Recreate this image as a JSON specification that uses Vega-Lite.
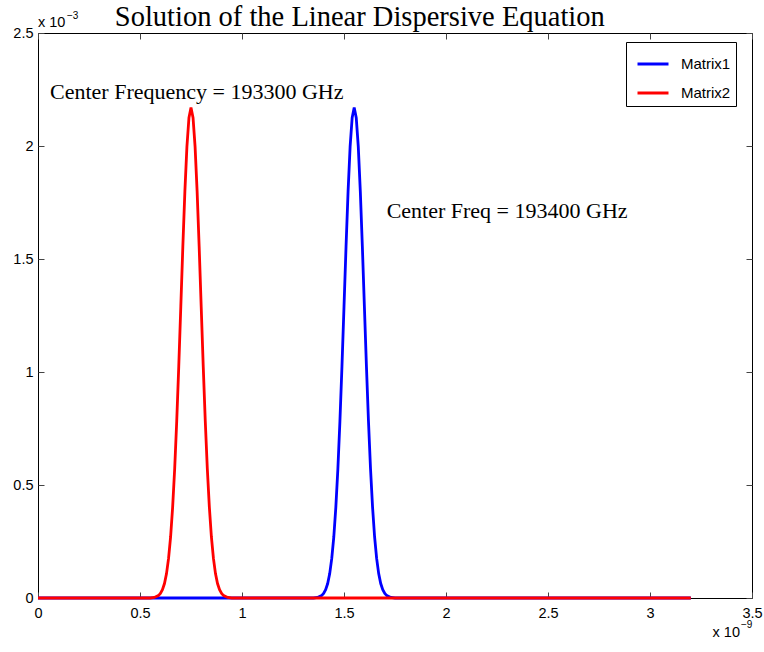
{
  "$schema": "https://vega.github.io/schema/vega-lite/v6.json",
  "width": 714,
  "height": 565,
  "autosize": {"type": "none"},
  "padding": {"left": 38, "top": 33, "right": 12, "bottom": 54},
  "background": "white",
  "config": {
    "view": {"stroke": "black", "strokeWidth": 1},
    "font": "Liberation Sans",
    "axis": {
      "grid": false,
      "domain": false,
      "tickColor": "#444",
      "tickSize": -6,
      "labelFont": "Liberation Sans",
      "labelFontSize": 14.5,
      "labelColor": "black",
      "title": null
    }
  },
  "title": {
    "text": "Solution of the Linear Dispersive Equation",
    "font": "Liberation Serif",
    "fontSize": 28.5,
    "fontWeight": "normal",
    "color": "black",
    "anchor": "start",
    "baseline": "alphabetic",
    "dx": 102,
    "offset": -44
  },
  "datasets": {
    "curves": [
      {"series": "Matrix1", "t": 0.0, "u": 0},
      {"series": "Matrix1", "t": 1.35, "u": 0},
      {"series": "Matrix1", "t": 1.37, "u": 0.0025},
      {"series": "Matrix1", "t": 1.39, "u": 0.0105},
      {"series": "Matrix1", "t": 1.40, "u": 0.020},
      {"series": "Matrix1", "t": 1.41, "u": 0.037},
      {"series": "Matrix1", "t": 1.42, "u": 0.064},
      {"series": "Matrix1", "t": 1.43, "u": 0.108},
      {"series": "Matrix1", "t": 1.44, "u": 0.175},
      {"series": "Matrix1", "t": 1.45, "u": 0.270},
      {"series": "Matrix1", "t": 1.46, "u": 0.402},
      {"series": "Matrix1", "t": 1.47, "u": 0.572},
      {"series": "Matrix1", "t": 1.48, "u": 0.782},
      {"series": "Matrix1", "t": 1.49, "u": 1.025},
      {"series": "Matrix1", "t": 1.50, "u": 1.289},
      {"series": "Matrix1", "t": 1.51, "u": 1.555},
      {"series": "Matrix1", "t": 1.52, "u": 1.799},
      {"series": "Matrix1", "t": 1.53, "u": 1.997},
      {"series": "Matrix1", "t": 1.54, "u": 2.125},
      {"series": "Matrix1", "t": 1.55, "u": 2.170},
      {"series": "Matrix1", "t": 1.56, "u": 2.125},
      {"series": "Matrix1", "t": 1.57, "u": 1.997},
      {"series": "Matrix1", "t": 1.58, "u": 1.799},
      {"series": "Matrix1", "t": 1.59, "u": 1.555},
      {"series": "Matrix1", "t": 1.60, "u": 1.289},
      {"series": "Matrix1", "t": 1.61, "u": 1.025},
      {"series": "Matrix1", "t": 1.62, "u": 0.782},
      {"series": "Matrix1", "t": 1.63, "u": 0.572},
      {"series": "Matrix1", "t": 1.64, "u": 0.402},
      {"series": "Matrix1", "t": 1.65, "u": 0.270},
      {"series": "Matrix1", "t": 1.66, "u": 0.175},
      {"series": "Matrix1", "t": 1.67, "u": 0.108},
      {"series": "Matrix1", "t": 1.68, "u": 0.064},
      {"series": "Matrix1", "t": 1.69, "u": 0.037},
      {"series": "Matrix1", "t": 1.70, "u": 0.020},
      {"series": "Matrix1", "t": 1.71, "u": 0.0105},
      {"series": "Matrix1", "t": 1.73, "u": 0.0025},
      {"series": "Matrix1", "t": 1.75, "u": 0},
      {"series": "Matrix1", "t": 3.2, "u": 0},
      {"series": "Matrix2", "t": 0.0, "u": 0},
      {"series": "Matrix2", "t": 0.55, "u": 0},
      {"series": "Matrix2", "t": 0.57, "u": 0.0025},
      {"series": "Matrix2", "t": 0.59, "u": 0.0105},
      {"series": "Matrix2", "t": 0.60, "u": 0.020},
      {"series": "Matrix2", "t": 0.61, "u": 0.037},
      {"series": "Matrix2", "t": 0.62, "u": 0.064},
      {"series": "Matrix2", "t": 0.63, "u": 0.108},
      {"series": "Matrix2", "t": 0.64, "u": 0.175},
      {"series": "Matrix2", "t": 0.65, "u": 0.270},
      {"series": "Matrix2", "t": 0.66, "u": 0.402},
      {"series": "Matrix2", "t": 0.67, "u": 0.572},
      {"series": "Matrix2", "t": 0.68, "u": 0.782},
      {"series": "Matrix2", "t": 0.69, "u": 1.025},
      {"series": "Matrix2", "t": 0.70, "u": 1.289},
      {"series": "Matrix2", "t": 0.71, "u": 1.555},
      {"series": "Matrix2", "t": 0.72, "u": 1.799},
      {"series": "Matrix2", "t": 0.73, "u": 1.997},
      {"series": "Matrix2", "t": 0.74, "u": 2.125},
      {"series": "Matrix2", "t": 0.75, "u": 2.170},
      {"series": "Matrix2", "t": 0.76, "u": 2.125},
      {"series": "Matrix2", "t": 0.77, "u": 1.997},
      {"series": "Matrix2", "t": 0.78, "u": 1.799},
      {"series": "Matrix2", "t": 0.79, "u": 1.555},
      {"series": "Matrix2", "t": 0.80, "u": 1.289},
      {"series": "Matrix2", "t": 0.81, "u": 1.025},
      {"series": "Matrix2", "t": 0.82, "u": 0.782},
      {"series": "Matrix2", "t": 0.83, "u": 0.572},
      {"series": "Matrix2", "t": 0.84, "u": 0.402},
      {"series": "Matrix2", "t": 0.85, "u": 0.270},
      {"series": "Matrix2", "t": 0.86, "u": 0.175},
      {"series": "Matrix2", "t": 0.87, "u": 0.108},
      {"series": "Matrix2", "t": 0.88, "u": 0.064},
      {"series": "Matrix2", "t": 0.89, "u": 0.037},
      {"series": "Matrix2", "t": 0.90, "u": 0.020},
      {"series": "Matrix2", "t": 0.91, "u": 0.0105},
      {"series": "Matrix2", "t": 0.93, "u": 0.0025},
      {"series": "Matrix2", "t": 0.95, "u": 0},
      {"series": "Matrix2", "t": 3.2, "u": 0}
    ]
  },
  "layer": [
    {
      "data": {"name": "curves"},
      "mark": {"type": "line", "strokeWidth": 2.8},
      "encoding": {
        "x": {
          "field": "t", "type": "quantitative",
          "scale": {"domain": [0, 3.5], "nice": false, "zero": false},
          "axis": {"orient": "bottom", "values": [0, 0.5, 1, 1.5, 2, 2.5, 3, 3.5], "format": "~g", "labelPadding": 14, "labelFlush": false}
        },
        "y": {
          "field": "u", "type": "quantitative",
          "scale": {"domain": [0, 2.5], "nice": false},
          "axis": {"orient": "left", "values": [0, 0.5, 1, 1.5, 2, 2.5], "format": "~g", "labelPadding": 11, "labelFlush": false}
        },
        "color": {
          "field": "series", "type": "nominal",
          "scale": {"domain": ["Matrix1", "Matrix2"], "range": ["#0000ff", "#ff0000"]},
          "legend": {
            "title": null,
            "orient": "none",
            "legendX": 588,
            "legendY": 9,
            "strokeColor": "black",
            "fillColor": "white",
            "padding": 5,
            "symbolOffset": 5,
            "symbolType": "stroke",
            "symbolSize": 961,
            "symbolStrokeWidth": 3,
            "labelOffset": 11,
            "labelFont": "Liberation Sans",
            "labelFontSize": 15,
            "labelColor": "black",
            "rowPadding": 4
          }
        }
      }
    },
    {
      "data": {"values": [{"t": 0, "u": 0}]},
      "mark": {"type": "point", "opacity": 0},
      "encoding": {
        "x": {"field": "t", "type": "quantitative", "axis": {"orient": "top", "values": [0, 0.5, 1, 1.5, 2, 2.5, 3, 3.5], "labels": false}},
        "y": {"field": "u", "type": "quantitative", "axis": {"orient": "right", "values": [0, 0.5, 1, 1.5, 2, 2.5], "labels": false}}
      }
    },
    {
      "data": {"values": [{"t": 0.059, "u": 2.208, "note": "Center Frequency = 193300 GHz"}]},
      "mark": {"type": "text", "font": "Liberation Serif", "fontSize": 22, "align": "left", "baseline": "alphabetic", "color": "black"},
      "encoding": {
        "x": {"field": "t", "type": "quantitative", "axis": null},
        "y": {"field": "u", "type": "quantitative", "axis": null},
        "text": {"field": "note"}
      }
    },
    {
      "data": {"values": [{"t": 1.709, "u": 1.683, "note": "Center Freq = 193400 GHz"}]},
      "mark": {"type": "text", "font": "Liberation Serif", "fontSize": 22, "align": "left", "baseline": "alphabetic", "color": "black"},
      "encoding": {
        "x": {"field": "t", "type": "quantitative", "axis": null},
        "y": {"field": "u", "type": "quantitative", "axis": null},
        "text": {"field": "note"}
      }
    },
    {
      "data": {"values": [{"t": 0, "u": 2.5, "note": "x 10"}]},
      "mark": {"type": "text", "font": "Liberation Sans", "fontSize": 14.5, "align": "left", "baseline": "middle", "dx": 0, "dy": -10.5, "color": "black"},
      "encoding": {
        "x": {"field": "t", "type": "quantitative", "axis": null},
        "y": {"field": "u", "type": "quantitative", "axis": null},
        "text": {"field": "note"}
      }
    },
    {
      "data": {"values": [{"t": 0, "u": 2.5, "note": "−3"}]},
      "mark": {"type": "text", "font": "Liberation Sans", "fontSize": 10, "align": "left", "baseline": "middle", "dx": 29, "dy": -17.5, "color": "black"},
      "encoding": {
        "x": {"field": "t", "type": "quantitative", "axis": null},
        "y": {"field": "u", "type": "quantitative", "axis": null},
        "text": {"field": "note"}
      }
    },
    {
      "data": {"values": [{"t": 3.5, "u": 0, "note": "x 10"}]},
      "mark": {"type": "text", "font": "Liberation Sans", "fontSize": 14.5, "align": "right", "baseline": "middle", "dx": -12, "dy": 35, "color": "black"},
      "encoding": {
        "x": {"field": "t", "type": "quantitative", "axis": null},
        "y": {"field": "u", "type": "quantitative", "axis": null},
        "text": {"field": "note"}
      }
    },
    {
      "data": {"values": [{"t": 3.5, "u": 0, "note": "−9"}]},
      "mark": {"type": "text", "font": "Liberation Sans", "fontSize": 10, "align": "left", "baseline": "middle", "dx": -11, "dy": 27, "color": "black"},
      "encoding": {
        "x": {"field": "t", "type": "quantitative", "axis": null},
        "y": {"field": "u", "type": "quantitative", "axis": null},
        "text": {"field": "note"}
      }
    }
  ],
  "resolve": {"axis": {"x": "independent", "y": "independent"}}
}
